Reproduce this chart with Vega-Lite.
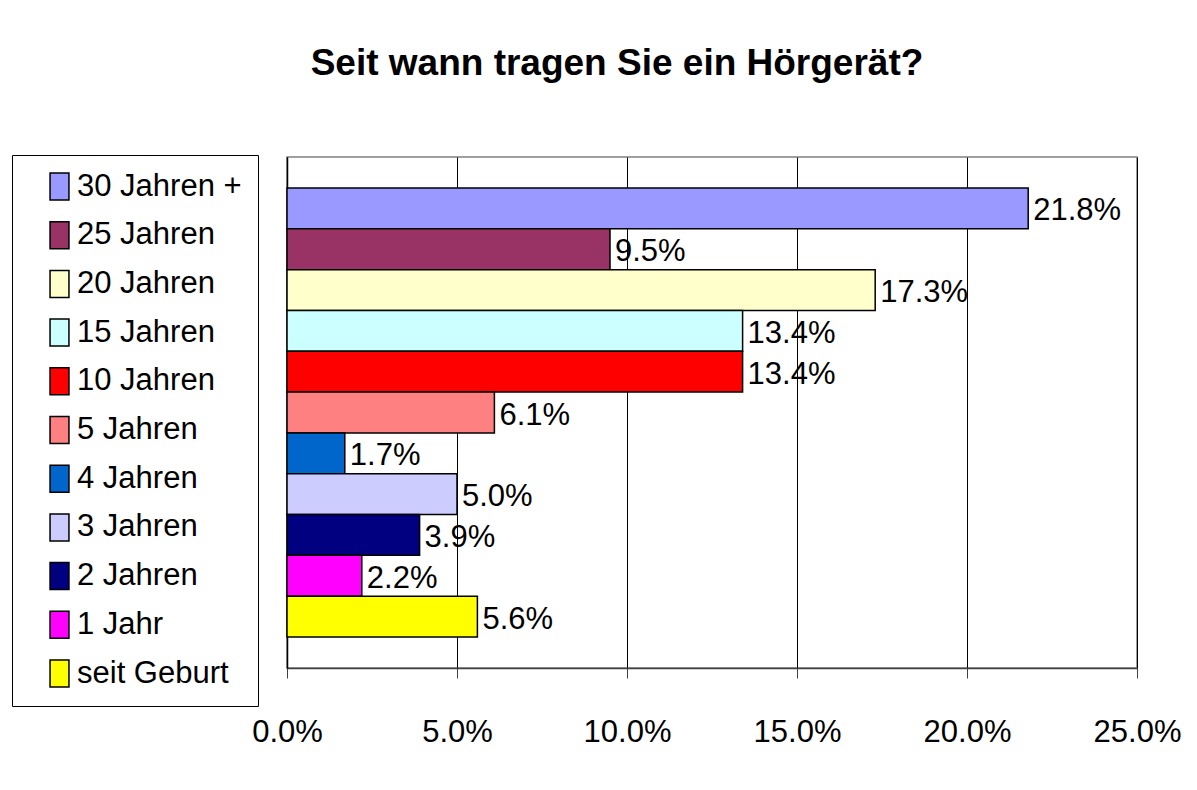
{
  "$schema": "https://vega.github.io/schema/vega-lite/v6.json",
  "width": 850,
  "height": 511,
  "autosize": {"type": "none"},
  "padding": {"left": 287, "top": 157, "right": 60, "bottom": 122},
  "background": "white",
  "title": {
    "text": "Seit wann tragen Sie ein Hörgerät?",
    "font": "Liberation Sans, Arial, sans-serif",
    "fontSize": 37,
    "fontWeight": "bold",
    "color": "black",
    "anchor": "middle",
    "dx": -95,
    "offset": 72
  },
  "data": {
    "values": [
      {"dauer": "30 Jahren +", "anteil": 0.218},
      {"dauer": "25 Jahren", "anteil": 0.095},
      {"dauer": "20 Jahren", "anteil": 0.173},
      {"dauer": "15 Jahren", "anteil": 0.134},
      {"dauer": "10 Jahren", "anteil": 0.134},
      {"dauer": "5 Jahren", "anteil": 0.061},
      {"dauer": "4 Jahren", "anteil": 0.017},
      {"dauer": "3 Jahren", "anteil": 0.050},
      {"dauer": "2 Jahren", "anteil": 0.039},
      {"dauer": "1 Jahr", "anteil": 0.022},
      {"dauer": "seit Geburt", "anteil": 0.056}
    ]
  },
  "encoding": {
    "y": {
      "field": "dauer",
      "type": "nominal",
      "sort": ["30 Jahren +", "25 Jahren", "20 Jahren", "15 Jahren", "10 Jahren", "5 Jahren", "4 Jahren", "3 Jahren", "2 Jahren", "1 Jahr", "seit Geburt"],
      "scale": {"paddingInner": 0, "paddingOuter": 0.76},
      "axis": {"labels": false, "ticks": false, "title": null, "domainColor": "black", "domainWidth": 1.5, "grid": false}
    },
    "x": {
      "field": "anteil",
      "type": "quantitative",
      "scale": {"domain": [0, 0.25], "nice": false},
      "axis": {
        "values": [0, 0.05, 0.1, 0.15, 0.2, 0.25],
        "format": ".1%",
        "title": null,
        "grid": true,
        "gridColor": "black",
        "gridWidth": 1,
        "gridOpacity": 1,
        "domainColor": "#404040",
        "domainWidth": 1.5,
        "tickColor": "#404040",
        "tickSize": 10,
        "labelFont": "Liberation Sans, Arial, sans-serif",
        "labelFontSize": 31,
        "labelColor": "black",
        "labelPadding": 39,
        "labelFlush": false
      }
    }
  },
  "layer": [
    {
      "mark": {"type": "bar", "stroke": "black", "strokeWidth": 1.5},
      "encoding": {
        "color": {
          "field": "dauer",
          "type": "nominal",
          "scale": {
            "domain": ["30 Jahren +", "25 Jahren", "20 Jahren", "15 Jahren", "10 Jahren", "5 Jahren", "4 Jahren", "3 Jahren", "2 Jahren", "1 Jahr", "seit Geburt"],
            "range": ["#9999FF", "#993366", "#FFFFCC", "#CCFFFF", "#FF0000", "#FF8080", "#0066CC", "#CCCCFF", "#000080", "#FF00FF", "#FFFF00"]
          },
          "legend": {
            "title": null,
            "orient": "none",
            "legendX": -275,
            "legendY": -2,
            "strokeColor": "black",
            "padding": 16,
            "symbolType": "M-0.7,-1H0.7V1H-0.7Z",
            "symbolSize": 729,
            "symbolStrokeColor": "black",
            "symbolStrokeWidth": 1.5,
            "symbolOffset": 16,
            "labelFont": "Liberation Sans, Arial, sans-serif",
            "labelFontSize": 31,
            "labelColor": "black",
            "labelOffset": 2,
            "labelLimit": 300,
            "rowPadding": 15.7
          }
        }
      }
    },
    {
      "mark": {
        "type": "text",
        "align": "left",
        "baseline": "middle",
        "dx": 5,
        "dy": 3,
        "font": "Liberation Sans, Arial, sans-serif",
        "fontSize": 31,
        "color": "black"
      },
      "encoding": {
        "text": {"field": "anteil", "type": "quantitative", "format": ".1%"}
      }
    }
  ],
  "config": {
    "view": {"stroke": "#808080", "strokeWidth": 1.5}
  }
}
